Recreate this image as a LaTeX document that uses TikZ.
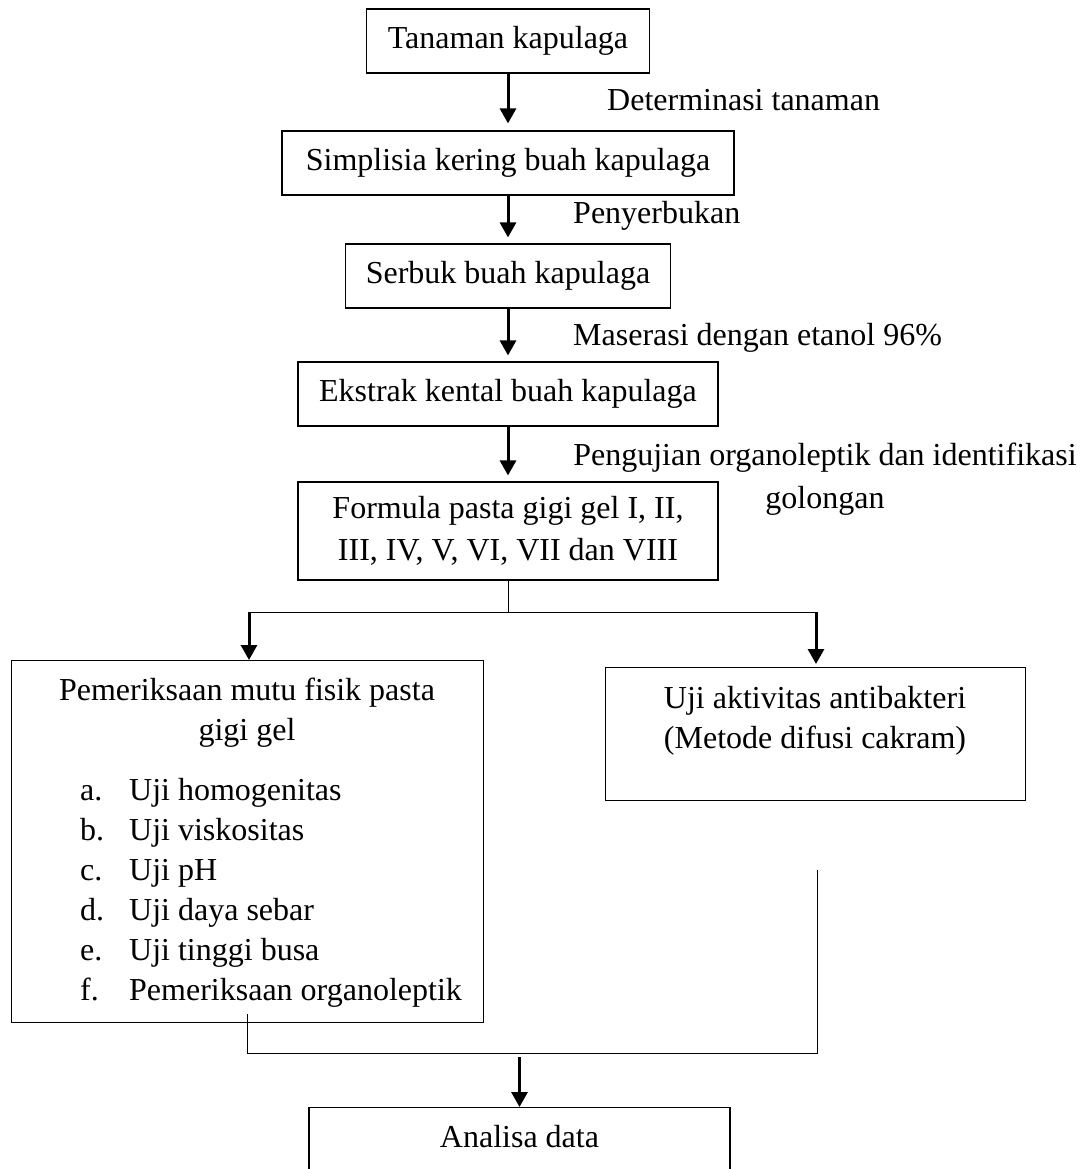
\documentclass[tikz,border=0pt]{standalone}
\usepackage{fontspec}
\setmainfont{Liberation Serif}
\usetikzlibrary{arrows.meta}

\begin{document}
\begin{tikzpicture}[x=1pt,y=-1pt,inner sep=0pt,
    font=\fontsize{32}{42}\selectfont,
    box/.style={draw,line width=1.2pt},
    flow/.style={line width=3pt,-{Triangle[length=15pt,width=16pt]}},
    link/.style={line width=1pt}
]
\useasboundingbox (0,0) rectangle (1090,1169);
% main chain of boxes
\node[box,minimum width=283pt,minimum height=64pt] (tanaman) at (508,41) {Tanaman kapulaga};
\node[box,minimum width=452pt,minimum height=64pt] (simplisia) at (508,163) {Simplisia kering buah kapulaga};
\node[box,minimum width=325pt,minimum height=64pt] (serbuk) at (508,276) {Serbuk buah kapulaga};
\node[box,minimum width=420pt,minimum height=64pt] (ekstrak) at (508,394) {Ekstrak kental buah kapulaga};
\node[box,minimum width=420pt,minimum height=98pt,align=center] (formula) at (508,531)
    {Formula pasta gigi gel I, II,\\III, IV, V, VI, VII dan VIII};

\draw[flow,shorten >=7pt] (tanaman) -- (simplisia);
\draw[flow,shorten >=6pt] (simplisia) -- (serbuk);
\draw[flow,shorten >=6pt] (serbuk) -- (ekstrak);
\draw[flow,shorten >=6pt] (ekstrak) -- (formula);

% step labels
\node[anchor=base west] (determinasi) at (607,111) {Determinasi tanaman};
\node[anchor=base west] (penyerbukan) at (573,223) {Penyerbukan};
\node[anchor=base west] (maserasi) at (573,345) {Maserasi dengan etanol 96\%};
\node[anchor=base] (pengujianA) at (825,465) {Pengujian organoleptik dan identifikasi};
\node[anchor=base] (pengujianB) at (825,508) {golongan};

% split into two tests
\coordinate (split) at (508,612);
\coordinate (splitL) at (249,612);
\coordinate (splitR) at (816,612);
\node[box,minimum width=472pt,minimum height=362pt,anchor=north west] (pemeriksaan) at (11,660) {};
\node[box,minimum width=420pt,minimum height=133pt,anchor=north west] (uji) at (605,667) {};

\draw[link] (formula) -- (split);
\draw[link] (splitL) -- (splitR);
\draw[flow] (splitL) -- (splitL |- pemeriksaan.north);
\draw[flow,shorten >=3pt] (splitR) -- (splitR |- uji.north);

% physical quality tests
\node[anchor=base] (mutuA) at (247,700) {Pemeriksaan mutu fisik pasta};
\node[anchor=base] (mutuB) at (247,740) {gigi gel};
\foreach \huruf/\isi [count=\i] in {a/Uji homogenitas,b/Uji viskositas,c/Uji pH,
    d/Uji daya sebar,e/Uji tinggi busa,f/Pemeriksaan organoleptik}
{
    \node[anchor=base west] (huruf-\huruf) at (80,760+40*\i) {\huruf.};
    \node[anchor=base west] (isi-\huruf) at (129,760+40*\i) {\isi};
}

% antibacterial test
\node[anchor=base] (ujiA) at (815,708) {Uji aktivitas antibakteri};
\node[anchor=base] (ujiB) at (815,748) {(Metode difusi cakram)};

% merge into data analysis
\coordinate (tailL) at (247,1014);
\coordinate (tailR) at (817,870);
\coordinate (mergeL) at (247,1053);
\coordinate (mergeR) at (817,1053);
\coordinate (merge) at (519.5,1053);
\draw[link] (tailL) -- (mergeL) -- (mergeR) -- (tailR);

\node[box,minimum width=421pt,minimum height=100pt,anchor=north] (analisa) at (519.5,1107) {};
\node[anchor=base] (analisaTeks) at (519.5,1147) {Analisa data};
\draw[flow,shorten <=4pt] (merge) -- (analisa.north);
\end{tikzpicture}
\end{document}
